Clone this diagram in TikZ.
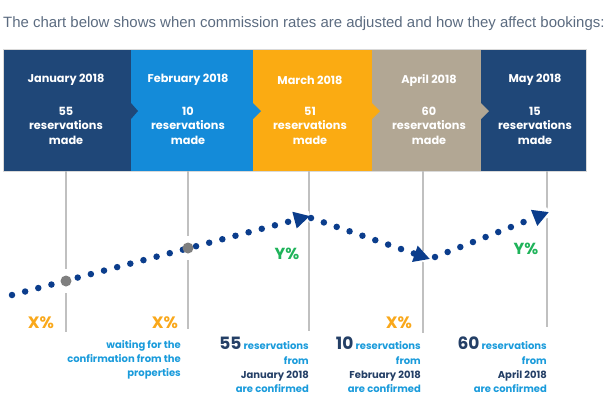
\documentclass[tikz,border=0pt]{standalone}
\usepackage{fontspec}
\setmainfont{Poppins}
\newfontfamily\titlefont{Liberation Sans}
\usetikzlibrary{arrows.meta}
\definecolor{navy}{HTML}{1F4778}
\definecolor{skyblue}{HTML}{148BD9}
\definecolor{amber}{HTML}{FBAB12}
\definecolor{taupe}{HTML}{B2A794}
\definecolor{dotblue}{HTML}{0B3D8C}
\definecolor{ygreen}{HTML}{1FB35A}
\definecolor{xorange}{HTML}{F9A81B}
\definecolor{titlegrey}{HTML}{5B6B80}
\definecolor{vlinec}{HTML}{C0C0C0}
\definecolor{lblblue}{HTML}{1A9BDB}
\definecolor{darkn}{HTML}{243F66}
\definecolor{dotgrey}{HTML}{7F7F7F}
\begin{document}
\begin{tikzpicture}[x=1pt,y=-1pt,
  month/.style={text=white,inner sep=0pt,font=\bfseries\fontsize{11.3}{13}\selectfont},
  count/.style={text=white,align=center,inner sep=0pt,font=\bfseries\fontsize{11.3}{14.5}\selectfont},
  vline/.style={draw=vlinec,line width=1.1pt},
  halo/.style={draw=white,line width=10pt},
  dotpath/.style={draw=dotblue,line width=6.5pt,line cap=round,dash pattern=on 0pt off 13.6pt,-{Triangle[length=16pt,width=16pt]}},
  greydot/.style={circle,fill=dotgrey,inner sep=0pt,minimum size=11pt},
  whitedisk/.style={circle,fill=white,inner sep=0pt,minimum size=24pt},
  ylab/.style={text=ygreen,inner sep=0pt,font=\bfseries\fontsize{16}{18}\selectfont},
  xlab/.style={text=xorange,inner sep=0pt,font=\bfseries\fontsize{16.5}{18}\selectfont},
  bl/.style={text=lblblue,anchor=base east,inner sep=0pt,font=\bfseries\fontsize{10}{12}\selectfont},
  bd/.style={text=darkn,anchor=base east,inner sep=0pt,font=\bfseries\fontsize{10}{12}\selectfont},
]
\useasboundingbox (0,0) rectangle (611,408);

% title
\node[anchor=base west,inner sep=0pt,text=titlegrey,font=\titlefont\fontsize{14.95}{17}\selectfont] (title) at (3,27)
  {The chart below shows when commission rates are adjusted and how they affect bookings:};

% banner blocks
\fill[navy] (3,49) rectangle (131,171);
\fill[skyblue] (131,49) rectangle (253,171);
\fill[amber] (253,49) rectangle (372,171);
\fill[taupe] (372,49) rectangle (481,171);
\fill[navy] (481,49) rectangle (586,171);
\fill[navy] (131,103) -- (138,111) -- (131,119) -- cycle;
\fill[skyblue] (253,103) -- (261,111) -- (253,119) -- cycle;
\fill[amber] (372,103) -- (380,111) -- (372,119) -- cycle;
\fill[taupe] (481,103) -- (489,111) -- (481,119) -- cycle;
\draw[draw=black!15,line width=0.6pt] (3,49) rectangle (586,171);

\node[month] (m1) at (66,80) {January 2018};
\node[month] (m2) at (188,80) {February 2018};
\node[month] (m3) at (310,80) {March 2018};
\node[month] (m4) at (429,80) {April 2018};
\node[month] (m5) at (535,80) {May 2018};
\node[count] (c1) at (66,125.5) {55\\reservations\\made};
\node[count] (c2) at (188,125.5) {10\\reservations\\made};
\node[count] (c3) at (310,125.5) {51\\reservations\\made};
\node[count] (c4) at (429,125.5) {60\\reservations\\made};
\node[count] (c5) at (535,125.5) {15\\reservations\\made};

% vertical lines
\coordinate (t1) at (66,171);  \coordinate (b1) at (66,332);
\coordinate (t2) at (188,171); \coordinate (b2) at (188,329);
\coordinate (t3) at (309,171); \coordinate (b3) at (309,331);
\coordinate (t4) at (423,171); \coordinate (b4) at (423,333);
\coordinate (t5) at (547,171); \coordinate (b5) at (547,327);
\foreach \i in {1,...,5} {\draw[vline] (t\i) -- (b\i);}

% dotted paths
\coordinate (p0) at (12,295);
\coordinate (p1) at (310,216);
\coordinate (q0) at (311,218);
\coordinate (q1) at (430,259);
\coordinate (r0) at (435,257);
\coordinate (r1) at (549,212);
\draw[halo] (p0) -- (p1);
\draw[halo] (q0) -- (q1);
\draw[halo] (r0) -- (r1);
\node[whitedisk] (w1) at (66,281) {};
\node[whitedisk] (w2) at (188,248) {};
\draw[dotpath] (p0) -- (p1);
\draw[dotpath] (q0) -- (q1);
\draw[dotpath] (r0) -- (r1);
\node[greydot] (g1) at (66,281) {};
\node[greydot] (g2) at (188,248) {};

% percentage labels
\node[ylab] (y1) at (287,254) {Y\%};
\node[ylab] (y2) at (526,249) {Y\%};
\node[xlab] (x1) at (41,323) {X\%};
\node[xlab] (x2) at (165,323) {X\%};
\node[xlab] (x3) at (399,323) {X\%};

% bottom texts
\node[bl] (w1a) at (181,348) {waiting for the};
\node[bl] (w1b) at (181,362) {confirmation from the};
\node[bl] (w1c) at (181,376) {properties};

\node[bl] (a1) at (309,349) {\textcolor{darkn}{\fontsize{17}{18}\selectfont 55} reservations};
\node[bl] (a2) at (309,364) {from};
\node[bd] (a3) at (309,378) {January 2018};
\node[bl] (a4) at (309,392) {are confirmed};

\node[bl] (b1a) at (421,349) {\textcolor{darkn}{\fontsize{17}{18}\selectfont 10} reservations};
\node[bl] (b1b) at (421,364) {from};
\node[bd] (b1c) at (421,378) {February 2018};
\node[bl] (b1d) at (421,392) {are confirmed};

\node[bl] (c1a) at (547,349) {\textcolor{darkn}{\fontsize{17}{18}\selectfont 60} reservations};
\node[bl] (c1b) at (547,364) {from};
\node[bd] (c1c) at (547,378) {April 2018};
\node[bl] (c1d) at (547,392) {are confirmed};
\end{tikzpicture}
\end{document}
